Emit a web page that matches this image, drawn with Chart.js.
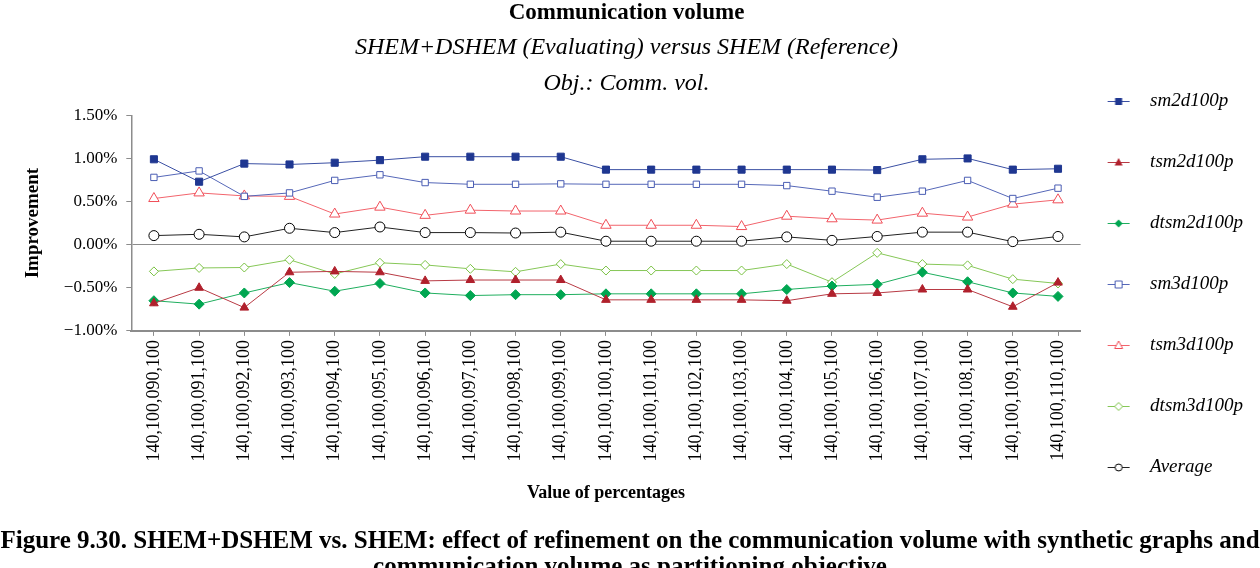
<!DOCTYPE html>
<html>
<head>
<meta charset="utf-8">
<script src="https://cdn.jsdelivr.net/npm/chart.js@4/dist/chart.umd.min.js"></script>
<style>
  html, body { margin: 0; padding: 0; background: #fff; }
  #wrap { position: relative; width: 1260px; height: 568px; overflow: hidden; }
  #caption {
    position: absolute; left: 0; top: 527px; width: 1260px;
    font-family: 'Liberation Serif', serif; font-weight: bold; font-size: 25px;
    line-height: 26px; text-align: center; white-space: nowrap; color: #000;
  }
</style>
</head>
<body>
<div id="wrap">
  <canvas id="grafico_volume"></canvas>
  <div id="caption">Figure 9.30. SHEM+DSHEM vs. SHEM: effect of refinement on the communication volume with synthetic graphs and<br>communication volume as partitioning objective</div>
</div>
<script>
var percentagens = [
  '140,100,090,100', '140,100,091,100', '140,100,092,100', '140,100,093,100',
  '140,100,094,100', '140,100,095,100', '140,100,096,100', '140,100,097,100',
  '140,100,098,100', '140,100,099,100', '140,100,100,100', '140,100,101,100',
  '140,100,102,100', '140,100,103,100', '140,100,104,100', '140,100,105,100',
  '140,100,106,100', '140,100,107,100', '140,100,108,100', '140,100,109,100',
  '140,100,110,100'
];

// improvement in %, one value per category
var sm2d100p   = [0.99, 0.73, 0.94, 0.93, 0.95, 0.98, 1.02, 1.02, 1.02, 1.02, 0.87, 0.87, 0.87, 0.87, 0.87, 0.87, 0.865, 0.99, 1.00, 0.87, 0.88];
var tsm2d100p  = [-0.68, -0.50, -0.73, -0.32, -0.31, -0.32, -0.42, -0.41, -0.41, -0.41, -0.64, -0.64, -0.64, -0.64, -0.65, -0.57, -0.56, -0.52, -0.52, -0.72, -0.44];
var dtsm2d100p = [-0.65, -0.69, -0.56, -0.44, -0.54, -0.45, -0.56, -0.59, -0.58, -0.58, -0.57, -0.57, -0.57, -0.57, -0.52, -0.48, -0.46, -0.32, -0.43, -0.56, -0.60];
var sm3d100p   = [0.78, 0.855, 0.56, 0.60, 0.745, 0.81, 0.72, 0.70, 0.70, 0.705, 0.70, 0.70, 0.70, 0.70, 0.685, 0.62, 0.55, 0.62, 0.745, 0.535, 0.655];
var tsm3d100p  = [0.535, 0.60, 0.565, 0.56, 0.355, 0.435, 0.34, 0.40, 0.39, 0.39, 0.225, 0.225, 0.225, 0.21, 0.33, 0.30, 0.285, 0.365, 0.32, 0.47, 0.52];
var dtsm3d100p = [-0.31, -0.27, -0.265, -0.175, -0.34, -0.21, -0.235, -0.28, -0.315, -0.225, -0.30, -0.30, -0.30, -0.30, -0.225, -0.435, -0.095, -0.225, -0.24, -0.40, -0.45];
var average    = [0.105, 0.12, 0.09, 0.19, 0.14, 0.205, 0.14, 0.14, 0.135, 0.145, 0.04, 0.04, 0.04, 0.04, 0.09, 0.05, 0.095, 0.145, 0.145, 0.035, 0.095];

var serif = "'Liberation Serif', 'Times New Roman', serif";
var grey = '#8c8c8c';
Chart.defaults.font.family = serif;
Chart.defaults.color = '#000';

function serie(label, data, cor, corLinha, estilo, raio, cheio) {
  return {
    label: label,
    data: data,
    borderColor: corLinha,
    borderWidth: 1,
    pointStyle: estilo,
    pointRadius: raio,
    pointHoverRadius: raio,
    pointBorderWidth: 1,
    pointBorderColor: cor,
    pointBackgroundColor: cheio ? cor : '#fff',
    tension: 0,
    fill: false,
    _cheio: cheio,
    _cor: cor
  };
}

// small line + marker used as legend symbol
function iconeLegenda(ds) {
  var c = document.createElement('canvas');
  c.width = 56; c.height = 14;
  var g = c.getContext('2d');
  g.strokeStyle = ds.borderColor; g.lineWidth = 1;
  g.beginPath(); g.moveTo(4, 7.5); g.lineTo(26, 7.5); g.stroke();
  var x = 15, y = 7.5, r = 3.5;
  g.beginPath();
  if (ds.pointStyle === 'rect') {
    g.rect(x - r, y - r, 2 * r, 2 * r);
  } else if (ds.pointStyle === 'triangle') {
    g.moveTo(x, y - r - 1); g.lineTo(x + r + 0.5, y + r - 0.5); g.lineTo(x - r - 0.5, y + r - 0.5); g.closePath();
  } else if (ds.pointStyle === 'rectRot') {
    g.moveTo(x, y - r - 0.5); g.lineTo(x + r + 0.5, y); g.lineTo(x, y + r + 0.5); g.lineTo(x - r - 0.5, y); g.closePath();
  } else {
    g.arc(x, y, r, 0, Math.PI * 2);
  }
  if (ds._cheio) {
    g.fillStyle = ds._cor; g.fill();
  } else {
    g.fillStyle = '#fff'; g.fill();
    g.strokeStyle = ds._cor; g.stroke();
  }
  return c;
}

new Chart(document.getElementById('grafico_volume'), {
  type: 'line',
  data: {
    labels: percentagens,
    datasets: [
      serie('sm2d100p', sm2d100p, '#1f3791', '#3a4fa3', 'rect', 5, true),
      serie('tsm2d100p', tsm2d100p, '#b0202c', '#b83a44', 'triangle', 5, true),
      serie('dtsm2d100p', dtsm2d100p, '#00a651', '#1fae5e', 'rectRot', 5, true),
      serie('sm3d100p', sm3d100p, '#4a5db3', '#5567b8', 'rect', 4.5, false),
      serie('tsm3d100p', tsm3d100p, '#f04e58', '#f2646c', 'triangle', 6, false),
      serie('dtsm3d100p', dtsm3d100p, '#79c142', '#86c757', 'rectRot', 4.5, false),
      serie('Average', average, '#000', '#222', 'circle', 5, false)
    ]
  },
  options: {
    responsive: true,
    maintainAspectRatio: false,
    animation: false,
    layout: { padding: { right: 7 } },
    plugins: {
      title: {
        display: true,
        text: 'Communication volume',
        font: { size: 23, weight: 'bold', lineHeight: 1.1 },
        padding: { top: 0, bottom: 4 }
      },
      subtitle: {
        display: true,
        text: ['SHEM+DSHEM (Evaluating) versus SHEM (Reference)', 'Obj.: Comm. vol.'],
        color: '#000',
        font: { size: 24, style: 'italic', lineHeight: 36 / 24 },
        padding: { top: 0, bottom: 14 }
      },
      legend: {
        display: true,
        position: 'right',
        weight: 3000,
        labels: {
          usePointStyle: true,
          pointStyleWidth: 18,
          padding: 42,
          color: '#000',
          font: { size: 19, style: 'italic' },
          generateLabels: function(chart) {
            return chart.data.datasets.map(function(ds, i) {
              return {
                text: ds.label,
                pointStyle: iconeLegenda(ds),
                datasetIndex: i,
                hidden: false,
                lineWidth: 0,
                fillStyle: ds._cor,
                strokeStyle: ds._cor
              };
            });
          }
        }
      },
      tooltip: { enabled: false }
    },
    scales: {
      x: {
        offset: true,
        grid: { drawOnChartArea: false, tickLength: 5, tickColor: grey },
        border: { color: grey, width: 2 },
        ticks: { autoSkip: false, maxRotation: 90, minRotation: 90, padding: 4, font: { size: 18 } },
        title: {
          display: true,
          text: 'Value of percentages',
          font: { size: 18, weight: 'bold', lineHeight: 1.2 },
          padding: { top: 17, bottom: 64 }
        }
      },
      y: {
        min: -1,
        max: 1.5,
        grid: {
          color: function(ctx) { return ctx.tick && ctx.tick.value === 0 ? grey : 'rgba(0,0,0,0)'; },
          tickColor: grey,
          tickLength: 5
        },
        border: { color: grey, width: 1.5 },
        ticks: {
          stepSize: 0.5,
          padding: 9,
          font: { size: 17 },
          callback: function(v) {
            return (v < 0 ? '\u2212' : '') + Math.abs(v).toFixed(2) + '%';
          }
        },
        title: {
          display: true,
          text: 'Improvement',
          font: { size: 19, weight: 'bold', lineHeight: 1.2 },
          padding: { top: 22, bottom: 10 }
        }
      }
    }
  }
});
</script>
</body>
</html>
